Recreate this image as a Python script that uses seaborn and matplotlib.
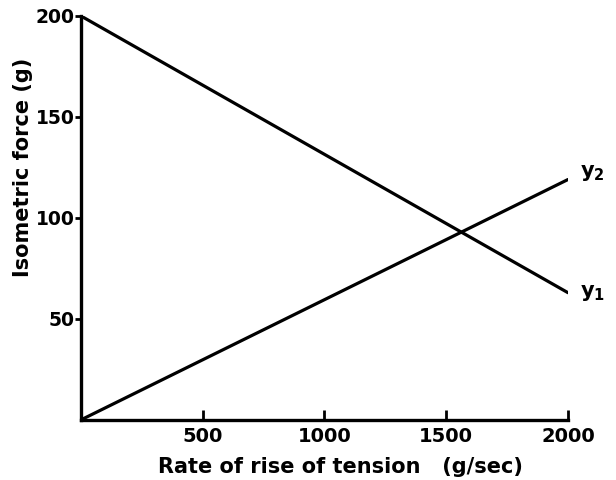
import matplotlib
matplotlib.use("Agg")
import matplotlib.pyplot as plt
import seaborn as sns
import pandas as pd

# Data
rate = [0, 2000]            # g/sec
y1_force = [200, 63]        # g
y2_force = [0, 119]         # g
x_ticks = [500, 1000, 1500, 2000]
y_ticks = [50, 100, 150, 200]
series_labels = [r"$\mathbf{y_1}$", r"$\mathbf{y_2}$"]

df = pd.DataFrame({
    "rate": rate + rate,
    "force": y1_force + y2_force,
    "series": ["y1"] * len(rate) + ["y2"] * len(rate),
})

sns.set_theme(style="ticks")
plt.rcParams['font.family'] = ['DejaVu Sans']
plt.rcParams['font.weight'] = 'bold'
plt.rcParams['mathtext.fontset'] = 'dejavusans'
for k in ['text.color', 'axes.labelcolor', 'xtick.color', 'ytick.color', 'axes.edgecolor']:
    plt.rcParams[k] = 'black'

fig = plt.figure(figsize=(6.16, 4.8), dpi=100)
ax = fig.add_axes([0.131, 0.125, 0.791, 0.842])

sns.lineplot(data=df, x="rate", y="force", hue="series",
             palette={"y1": "black", "y2": "black"}, linewidth=2.3,
             legend=False, ax=ax)

ax.set_xlim(0, 2000)
ax.set_ylim(0, 200)
ax.set_xticks(x_ticks)
ax.set_yticks(y_ticks)
ax.tick_params(axis='x', direction='in', length=7, width=2, labelsize=14, pad=5)
ax.tick_params(axis='y', direction='out', length=4, width=2, labelsize=13.5, pad=0.5)
for lbl in ax.get_xticklabels() + ax.get_yticklabels():
    lbl.set_fontweight('bold')

for s in ["top", "right"]:
    ax.spines[s].set_visible(False)
for s in ["left", "bottom"]:
    ax.spines[s].set_linewidth(2.4)
    ax.spines[s].set_color("black")

ax.set_xlabel("Rate of rise of tension   (g/sec)", fontsize=15, fontweight='bold')
ax.set_ylabel("Isometric force (g)", fontsize=15, fontweight='bold')
ax.xaxis.set_label_coords(0.534, -0.092)
ax.yaxis.set_label_coords(-0.098, 0.626)

ax.annotate(series_labels[0], xy=(rate[-1], y1_force[-1]), xytext=(9, 0),
            textcoords='offset points', fontsize=15,
            va='center', ha='left', annotation_clip=False)
ax.annotate(series_labels[1], xy=(rate[-1], y2_force[-1]), xytext=(9, 5),
            textcoords='offset points', fontsize=15,
            va='center', ha='left', annotation_clip=False)

fig.savefig("out.png", dpi=100)
